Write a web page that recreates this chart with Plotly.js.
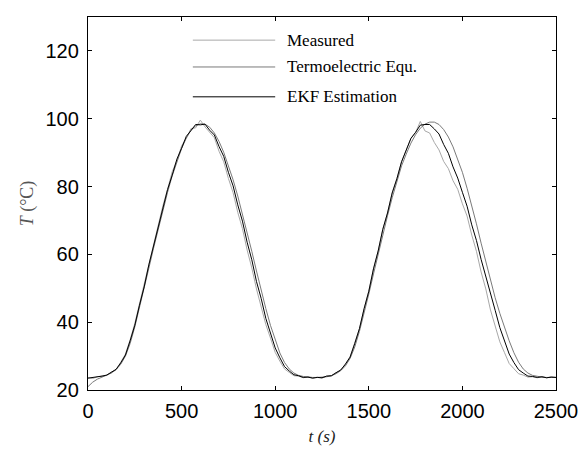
<!DOCTYPE html>
<html>
<head>
<meta charset="utf-8">
<script src="https://cdn.plot.ly/plotly-3.0.1.min.js"></script>
<style>html,body{margin:0;padding:0;background:#fff}#chart{width:582px;height:449px}</style>
</head>
<body>
<div id="chart"></div>
<script>
// time axis (s)
var time = [0,25,50,75,100,125,150,175,200,225,250,275,300,325,350,375,400,425,450,475,
  500,525,550,575,600,625,650,675,700,725,750,775,800,825,850,875,900,925,950,975,
  1000,1025,1050,1075,1100,1125,1150,1175,1200,1225,1250,1275,1300,1325,1350,1375,1400,1425,1450,1475,
  1500,1525,1550,1575,1600,1625,1650,1675,1700,1725,1750,1775,1800,1825,1850,1875,1900,1925,1950,1975,
  2000,2025,2050,2075,2100,2125,2150,2175,2200,2225,2250,2275,2300,2325,2350,2375,2400,2425,2450,2475,2500];

var measured = [23.6,23.4,23.9,24.1,24.3,25.3,26.0,28.2,30.6,34.8,39.6,45.4,51.2,56.4,63.1,68.0,74.3,79.2,84.4,87.6,
  92.0,94.2,97.1,97.3,99.6,97.6,96.0,94.4,90.4,87.3,82.4,78.2,72.4,67.6,61.3,56.0,49.8,44.9,39.3,35.3,
  31.1,28.5,26.2,25.2,24.2,24.1,23.6,23.9,23.5,23.8,23.5,24.1,24.2,25.1,25.8,27.7,29.8,33.9,38.0,44.0,
  49.2,55.8,61.0,67.5,72.2,78.2,82.3,87.3,90.5,94.2,95.9,99.2,96.4,95.8,93.0,90.8,87.4,85.3,81.7,79.2,
  74.9,71.3,65.7,60.9,54.8,49.8,43.6,39.2,34.2,31.0,27.8,26.3,24.8,24.4,23.8,23.9,23.6,23.9,23.6,23.9,23.7];

var termoelectric = [21.0,22.3,23.2,23.8,24.3,25.0,26.0,27.6,30.0,33.7,38.6,44.1,49.9,55.9,61.8,67.6,73.1,78.3,83.2,87.5,
  91.2,94.3,96.6,97.9,98.5,98.4,97.5,95.8,93.3,90.1,86.3,82.0,77.2,72.0,66.6,60.9,55.1,49.4,44.0,39.0,
  34.6,30.9,28.1,26.2,25.0,24.3,24.0,23.8,23.7,23.7,23.7,23.9,24.2,24.8,25.7,27.1,29.3,32.7,37.3,42.6,
  48.3,54.2,60.1,65.9,71.4,76.7,81.7,86.1,89.6,92.8,95.3,97.2,98.4,99.0,99.0,98.3,96.8,94.6,91.7,88.2,
  84.2,79.5,74.5,69.0,63.3,57.7,52.3,47.2,42.6,38.4,34.5,31.0,28.2,26.2,25.0,24.3,24.0,23.8,23.7,23.7,23.7];

var ekf = [23.5,23.7,23.7,24.1,24.4,25.2,26.1,28.0,30.3,34.5,39.1,45.0,50.4,56.9,62.3,68.4,73.4,79.1,83.4,88.1,
  91.3,94.8,96.5,98.3,98.2,98.4,96.6,95.2,91.8,88.9,84.2,80.2,74.6,69.8,63.6,58.4,52.0,47.0,41.1,37.0,
  32.4,29.5,26.9,25.6,24.5,24.2,23.7,23.8,23.5,23.7,23.6,24.1,24.2,25.1,25.9,27.6,29.7,33.7,38.1,44.0,
  49.1,55.7,61.0,67.4,72.2,78.1,82.3,87.3,90.5,94.2,96.0,98.1,98.3,98.3,97.0,95.5,92.4,89.8,85.8,82.5,
  78.3,74.2,68.7,64.1,58.5,53.7,48.1,43.5,38.4,34.6,30.6,28.1,26.0,25.0,24.1,24.0,23.7,23.9,23.6,23.8,23.7];

var seriesNames = ['Measured', 'Termoelectric Equ.', 'EKF Estimation'];
var seriesColors = ['#a8a8a8', '#7a7a7a', '#000000'];
var yTicks = [20, 40, 60, 80, 100, 120];
var xTicks = [0, 500, 1000, 1500, 2000, 2500];

var seriesData = [measured, termoelectric, ekf];
var traces = seriesData.map(function (vals, i) {
  return {
    x: time, y: vals, type: 'scatter', mode: 'lines', name: seriesNames[i],
    line: {color: seriesColors[i], width: 1}, showlegend: false
  };
});

// legend drawn as shapes + annotations (long MATLAB-style samples)
var legY = [0.938, 0.866, 0.786];
var shapes = [], annotations = [];
seriesNames.forEach(function (n, i) {
  shapes.push({type: 'line', xref: 'paper', yref: 'paper', x0: 0.224, x1: 0.4,
    y0: legY[i], y1: legY[i], line: {color: seriesColors[i], width: 1}});
  annotations.push({xref: 'paper', yref: 'paper', x: 0.421, y: legY[i], xanchor: 'left', yanchor: 'middle',
    text: n, showarrow: false, font: {family: 'Liberation Serif, Times New Roman, serif', size: 17, color: '#000'}});
});

var layout = {
  width: 582, height: 449,
  margin: {l: 88, r: 26, t: 17, b: 59},
  paper_bgcolor: '#fff', plot_bgcolor: '#fff',
  font: {family: 'Liberation Sans, Arial, sans-serif', size: 20, color: '#000'},
  xaxis: {
    range: [0, 2500], tickvals: xTicks, ticktext: xTicks.map(String),
    ticks: 'inside', ticklen: 4, tickcolor: '#000', showline: true, linecolor: '#000', linewidth: 1.2,
    mirror: 'ticks', showgrid: false, zeroline: false, ticklabelstandoff: 3,
    title: {text: '<i>t (s)</i>', font: {family: 'Liberation Serif, Times New Roman, serif', size: 17, color: '#222'}, standoff: 8}
  },
  yaxis: {
    range: [20, 130], tickvals: yTicks, ticktext: yTicks.map(String),
    ticks: 'inside', ticklen: 4, tickcolor: '#000', showline: true, linecolor: '#000', linewidth: 1.2,
    mirror: 'ticks', showgrid: false, zeroline: false, ticklabelstandoff: 4,
    title: {text: '<i>T</i> (°C)', font: {family: 'Liberation Serif, Times New Roman, serif', size: 18, color: '#555'}, standoff: 7}
  },
  shapes: shapes,
  annotations: annotations,
  showlegend: false
};

Plotly.newPlot('chart', traces, layout, {displayModeBar: false, staticPlot: true});
</script>
</body>
</html>
